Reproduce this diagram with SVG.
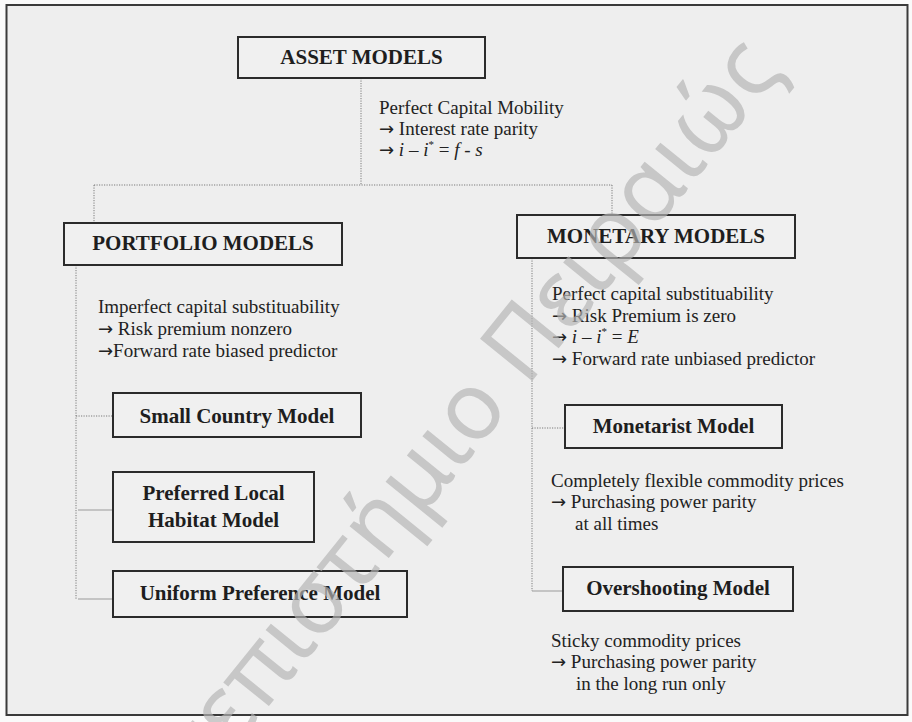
<svg xmlns="http://www.w3.org/2000/svg" width="912" height="722" viewBox="0 0 912 722">
<style>
.box{fill:#f0f0f0;stroke:#2b2b2b;stroke-width:2}
.lbl{font-family:"Liberation Serif","Times New Roman",serif;font-weight:bold;font-size:21px;fill:#1e1e1e;text-anchor:middle}
.txt{font-family:"Liberation Serif","Times New Roman",serif;font-size:19px;fill:#222}
.ar{font-family:"DejaVu Sans",sans-serif;font-size:18px}
.it{font-style:italic}
.dot{fill:none;stroke:#7a7a7a;stroke-width:1;stroke-dasharray:1.2 1.3}
.thin{fill:none;stroke:#9a9a9a;stroke-width:1}
.wm{font-family:"Noto Sans","DejaVu Sans",sans-serif;font-size:94px;fill:#b4b4b4;fill-opacity:0.68}
</style>
<rect x="0" y="0" width="912" height="722" fill="#fafafa"/>
<rect x="6.5" y="5" width="901" height="710" fill="#eeeeee" stroke="#3a3a3a" stroke-width="2"/>

<g id="connectors">
  <path class="dot" d="M361 78 V185"/>
  <path class="dot" d="M94 185 H612"/>
  <path class="dot" d="M94 185 V223"/>
  <path class="dot" d="M612 185 V215"/>
  <path class="dot" d="M76 265 V599"/>
  <path class="dot" d="M76 416 H113"/>
  <path class="thin" d="M78 510 H113"/>
  <path class="thin" d="M78 599 H113"/>
  <path class="dot" d="M532 258 V591"/>
  <path class="dot" d="M532 428 H565"/>
  <path class="thin" d="M532 591 H563"/>
</g>

<g id="asset-models">
  <rect class="box" x="238" y="37" width="247" height="41"/>
  <text class="lbl" x="361.5" y="64">ASSET MODELS</text>
</g>
<g id="asset-note">
  <text class="txt" x="379" y="114">Perfect Capital Mobility</text>
  <text class="txt" x="379" y="135"><tspan class="ar">→</tspan> Interest rate parity</text>
  <text class="txt" x="379" y="156"><tspan class="ar">→</tspan> <tspan class="it">i</tspan> – <tspan class="it">i</tspan><tspan font-size="11" dy="-8">*</tspan><tspan dy="8"> = </tspan><tspan class="it">f</tspan> - <tspan class="it">s</tspan></text>
</g>

<g id="portfolio-models">
  <rect class="box" x="64" y="223" width="278" height="42"/>
  <text class="lbl" x="203" y="250">PORTFOLIO MODELS</text>
</g>
<g id="portfolio-note">
  <text class="txt" x="98" y="313">Imperfect capital substituability</text>
  <text class="txt" x="98" y="335"><tspan class="ar">→</tspan> Risk premium nonzero</text>
  <text class="txt" x="98" y="357"><tspan class="ar">→</tspan>Forward rate biased predictor</text>
</g>

<g id="monetary-models">
  <rect class="box" x="517" y="215" width="278" height="43"/>
  <text class="lbl" x="656" y="243">MONETARY MODELS</text>
</g>
<g id="monetary-note">
  <text class="txt" x="552" y="300">Perfect capital substituability</text>
  <text class="txt" x="552" y="322"><tspan class="ar">→</tspan> Risk Premium is zero</text>
  <text class="txt" x="552" y="343"><tspan class="ar">→</tspan> <tspan class="it">i</tspan> – <tspan class="it">i</tspan><tspan font-size="11" dy="-8">*</tspan><tspan dy="8"> = </tspan><tspan class="it">E</tspan></text>
  <text class="txt" x="552" y="365"><tspan class="ar">→</tspan> Forward rate unbiased predictor</text>
</g>

<g id="small-country-model">
  <rect class="box" x="113" y="393" width="248" height="44"/>
  <text class="lbl" x="237" y="423">Small Country Model</text>
</g>

<g id="preferred-local-habitat-model">
  <rect class="box" x="113" y="472" width="201" height="70"/>
  <text class="lbl" x="213.5" y="500">Preferred Local</text>
  <text class="lbl" x="213.5" y="527">Habitat Model</text>
</g>

<g id="uniform-preference-model">
  <rect class="box" x="113" y="571" width="294" height="46"/>
  <text class="lbl" x="260" y="600">Uniform Preference Model</text>
</g>

<g id="monetarist-model">
  <rect class="box" x="565" y="405" width="217" height="43"/>
  <text class="lbl" x="673.5" y="433">Monetarist Model</text>
</g>
<g id="monetarist-note">
  <text class="txt" x="551" y="487">Completely flexible commodity prices</text>
  <text class="txt" x="551" y="508"><tspan class="ar">→</tspan> Purchasing power parity</text>
  <text class="txt" x="575" y="530">at all times</text>
</g>

<g id="overshooting-model">
  <rect class="box" x="563" y="567" width="230" height="44"/>
  <text class="lbl" x="678" y="595">Overshooting Model</text>
</g>
<g id="overshooting-note">
  <text class="txt" x="551" y="647">Sticky commodity prices</text>
  <text class="txt" x="551" y="668"><tspan class="ar">→</tspan> Purchasing power parity</text>
  <text class="txt" x="576" y="690">in the long run only</text>
</g>

<text class="wm" x="784" y="70" text-anchor="end" transform="rotate(-51 784 70)">Πανεπιστήμιο Πειραιώς</text>
</svg>
